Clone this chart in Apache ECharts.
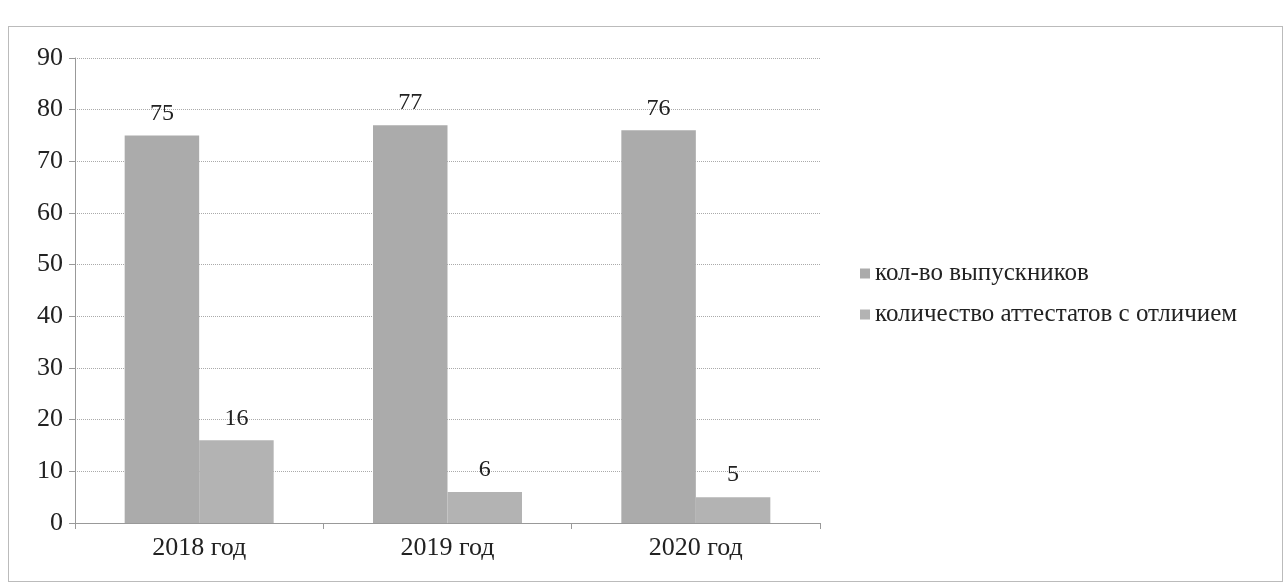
<!DOCTYPE html>
<html><head><meta charset="utf-8">
<script src="https://cdn.jsdelivr.net/npm/echarts@6/dist/echarts.min.js"></script>
<style>html,body{margin:0;padding:0;background:#fff}#c{width:1283px;height:585px}
#box{position:absolute;left:8px;top:26px;width:1275px;height:556px;border:1px solid #bbb;box-sizing:border-box;pointer-events:none}</style>
</head><body><div id="c"></div><div id="box"></div>
<script>
const categories = ['2018 год', '2019 год', '2020 год'];
const graduates = [75, 77, 76];
const honours = [16, 6, 5];
const seriesNames = ['кол-во выпускников', 'количество аттестатов с отличием'];

const chart = echarts.init(document.getElementById('c'));
const font = '"Liberation Serif", "DejaVu Serif", serif';
const labelStyle = {show: true, position: 'top', distance: 10, fontFamily: font, fontSize: 24, color: '#222'};
chart.setOption({
  animation: false,
  textStyle: {fontFamily: font},
  grid: {left: 75, right: 463, top: 58, bottom: 62},
  legend: {
    orient: 'vertical', left: 855, top: 256, itemGap: 16,
    itemWidth: 10, itemHeight: 10, icon: 'rect',
    textStyle: {fontFamily: font, fontSize: 25, color: '#222'},
    data: seriesNames
  },
  xAxis: {
    type: 'category', data: categories,
    axisLine: {lineStyle: {color: '#999'}},
    axisTick: {show: true, length: 6, lineStyle: {color: '#999'}},
    axisLabel: {fontFamily: font, fontSize: 26, color: '#222', margin: 12}
  },
  yAxis: {
    type: 'value', min: 0, max: 90, interval: 10,
    axisLine: {show: true, lineStyle: {color: '#999'}},
    axisTick: {show: true, length: 6, lineStyle: {color: '#999'}},
    axisLabel: {fontFamily: font, fontSize: 26, color: '#222', margin: 12},
    splitLine: {lineStyle: {color: '#aaa', type: 'dotted'}}
  },
  series: [
    {name: seriesNames[0], type: 'bar', data: graduates, barGap: '0%', barCategoryGap: '40%',
     itemStyle: {color: '#ababab'}, label: labelStyle},
    {name: seriesNames[1], type: 'bar', data: honours,
     itemStyle: {color: '#b3b3b3'}, label: labelStyle}
  ]
});
</script></body></html>
